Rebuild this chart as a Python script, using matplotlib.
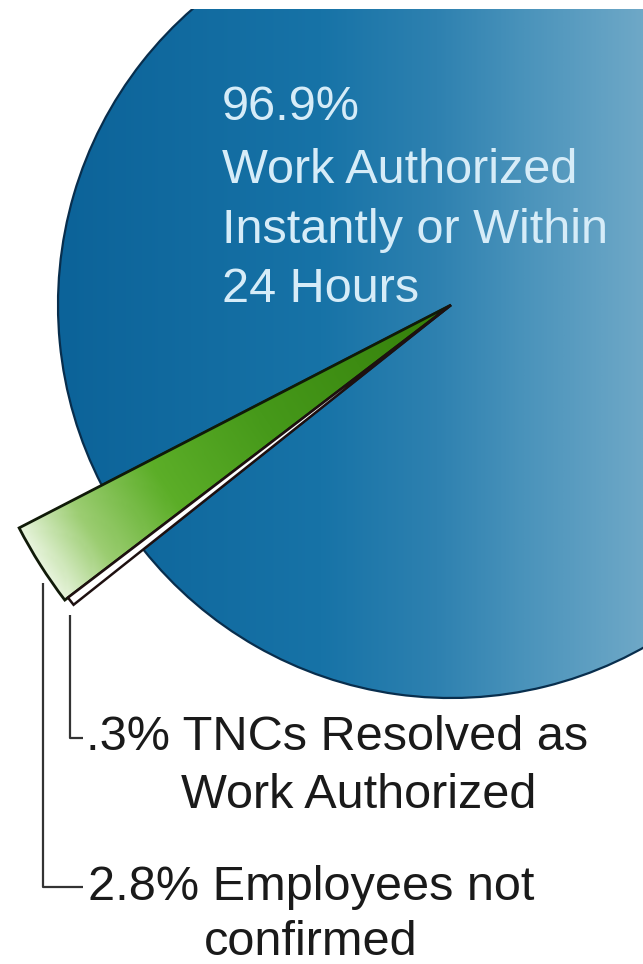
import numpy as np
import matplotlib
matplotlib.use("Agg")
import matplotlib.pyplot as plt
from matplotlib.colors import LinearSegmentedColormap
from matplotlib.patches import Rectangle

# ---- data ----
categories = ["Employees not confirmed", "TNCs Resolved as Work Authorized",
              "Work Authorized Instantly or Within 24 Hours"]
values = [2.8, 0.3, 96.9]
top_label = ["96.9%", "Work Authorized", "Instantly or Within", "24 Hours"]
tnc_label = [".3% TNCs Resolved as", "Work Authorized"]
emp_label = ["2.8% Employees not", "confirmed"]

W, H = 643, 964
fig = plt.figure(figsize=(W / 100, H / 100), dpi=100)
ax = fig.add_axes([0, 0, 1, 1])

def py(y):  # pixel-from-top to data y
    return H - y

cx, cy = 451, py(305)
R = 393
R_out = 486

wedges, _ = ax.pie(values, startangle=207.3, counterclock=True,
                   center=(cx, cy), radius=R, frame=True,
                   wedgeprops=dict(linewidth=0))
ax.set_xlim(0, W)
ax.set_ylim(0, H)
ax.set_aspect("equal")
ax.axis("off")

green_w, white_w, blue_w = wedges

# ---- blue main slice with horizontal gradient ----
blue_w.set_facecolor("none")
blue_w.set_edgecolor("#082e4d")
blue_w.set_linewidth(1.6)
blue_w.set_zorder(3)

blue_cmap = LinearSegmentedColormap.from_list(
    "bl", [(0.0, "#0c6399"), (0.45, "#1773a7"), (0.65, "#2e81b0"),
           (0.8, "#4a93bb"), (1.0, "#6ea8c7")])
gx = np.linspace(0, 1, 400)[None, :]
gy = np.linspace(0, 1, 50)[:, None]
grad = gx + 0.0 * gy
x0 = cx - R
img = ax.imshow(grad, cmap=blue_cmap, extent=[x0, W, 0, H],
                origin="lower", aspect="auto", zorder=2,
                interpolation="bilinear")
img.set_clip_path(blue_w)

# white band at the top where the picture is cropped
ax.add_patch(Rectangle((0, py(9)), W, 9, facecolor="white",
                       edgecolor="none", zorder=10))

# ---- small slices pulled out and lengthened ----
green_w.set_radius(R_out)
white_w.set_radius(R_out - 4)

green_cmap = LinearSegmentedColormap.from_list(
    "gr", [(0.0, "#347f0a"), (0.45, "#46991a"), (0.7, "#5cae28"),
           (0.88, "#9ccd72"), (1.0, "#e6f3da")])
n = 300
xs = np.linspace(0, W, n)
ys = np.linspace(0, H, n)
XX, YY = np.meshgrid(xs, ys)
D = np.hypot(XX - cx, YY - cy) / R_out
gimg = ax.imshow(np.clip(D, 0, 1), cmap=green_cmap, extent=[0, W, 0, H],
                 origin="lower", aspect="auto", zorder=4,
                 interpolation="bilinear", vmin=0, vmax=1)
green_w.set_facecolor("none")
green_w.set_edgecolor("#101a08")
green_w.set_linewidth(2.0)
green_w.set_zorder(5)
gimg.set_clip_path(green_w)

white_w.set_facecolor("white")
white_w.set_edgecolor("#1e1010")
white_w.set_linewidth(1.8)
white_w.set_zorder(5)

# ---- labels on pie ----
top_baselines = [120, 183, 243, 302]
for txt, b in zip(top_label, top_baselines):
    ax.text(222, py(b), txt, color="#d6ecf8", fontsize=35,
            family="Liberation Sans", ha="left", va="baseline", zorder=6)

# ---- leader lines ----
line_kw = dict(color="#333333", lw=1.6, solid_capstyle="butt", zorder=6)
ax.plot([43, 43, 83], [py(583), py(887), py(887)], **line_kw)
ax.plot([70, 70, 83], [py(615), py(738), py(738)], **line_kw)

# ---- outside labels ----
txt_kw = dict(color="#1a1a1a", fontsize=35, family="Liberation Sans",
              ha="left", va="baseline", zorder=6)
ax.text(86, py(750), tnc_label[0], **txt_kw)
ax.text(181, py(808), tnc_label[1], **txt_kw)
ax.text(88, py(900), emp_label[0], **txt_kw)
ax.text(204, py(955), emp_label[1], **txt_kw)

fig.savefig("out.png", dpi=100)
